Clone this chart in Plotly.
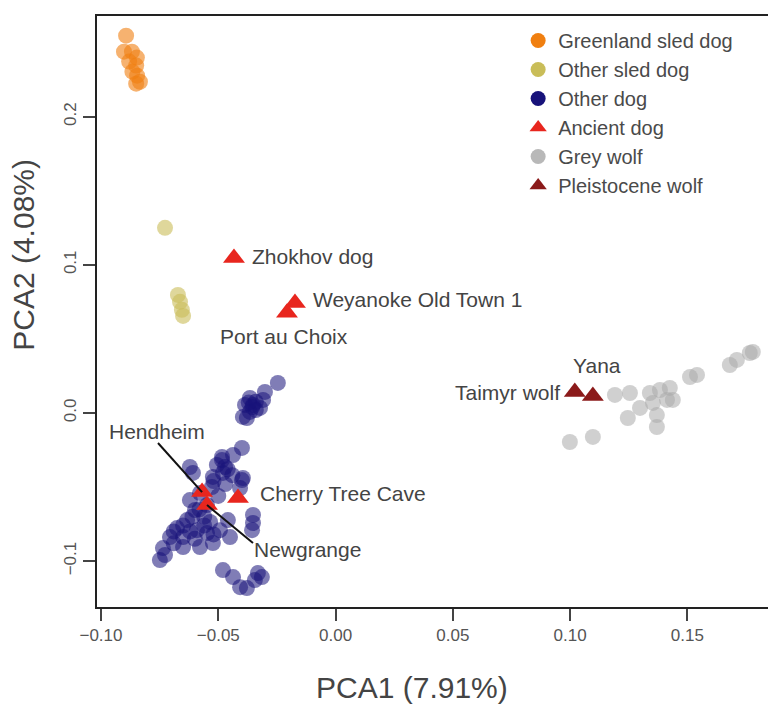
import plotly.graph_objects as go

# ---------------- data ----------------
greenland_x = [-0.0893, -0.0902, -0.0868, -0.0847, -0.0880, -0.0850, -0.0866, -0.0846, -0.0834, -0.0850]
greenland_y = [0.2547, 0.2439, 0.2439, 0.2399, 0.2372, 0.2345, 0.2304, 0.2277, 0.2236, 0.2223]

othersled_x = [-0.0727, -0.0672, -0.0663, -0.0655, -0.0650]
othersled_y = [0.1250, 0.0797, 0.0750, 0.0696, 0.0655]

otherdog_x = [-0.0246, -0.0301, -0.0365, -0.0386, -0.0352, -0.0322, -0.0365, -0.0395, -0.0378, -0.0309, -0.0340,
              -0.0399, -0.0437, -0.0484, -0.0506, -0.0471, -0.0621, -0.0608, -0.0523, -0.0480, -0.0395, -0.0407,
              -0.0352, -0.0352, -0.0356, -0.0527, -0.0578, -0.0599, -0.0633, -0.0676, -0.0706, -0.0736, -0.0727,
              -0.0650, -0.0591, -0.0548, -0.0493, -0.0450, -0.0523, -0.0578, -0.0650, -0.0480, -0.0437, -0.0407,
              -0.0378, -0.0344, -0.0331, -0.0459, -0.0535, -0.0621, -0.0548, -0.0749, -0.0399, -0.0314, -0.0484,
              -0.0560, -0.0600, -0.0690, -0.0560, -0.0620, -0.0520, -0.0460, -0.0520,
              -0.0690, -0.0650, -0.0610, -0.0580, -0.0500, -0.0470, -0.0440, -0.0355, -0.0340, -0.0370]
otherdog_y = [0.0203, 0.0142, 0.0101, 0.0054, 0.0054, 0.0034, 0.0007, -0.0027, -0.0034, 0.0088, 0.0075,
              -0.0236, -0.0284, -0.0318, -0.0351, -0.0365, -0.0365, -0.0405, -0.0432, -0.0405, -0.0439, -0.0507,
              -0.0689, -0.0743, -0.0791, -0.0500, -0.0541, -0.0655, -0.0723, -0.0777, -0.0838, -0.0912, -0.0959,
              -0.0838, -0.0791, -0.0811, -0.0791, -0.0838, -0.0878, -0.0905, -0.0905, -0.1061, -0.1108, -0.1176,
              -0.1182, -0.1128, -0.1081, -0.0723, -0.0736, -0.0588, -0.0622, -0.0993, -0.0453, -0.1108, -0.0297,
              -0.0700, -0.0850, -0.0880, -0.0760, -0.0800, -0.0460, -0.0380, -0.0820,
              -0.0800, -0.0760, -0.0700, -0.0650, -0.0560, -0.0480, -0.0420, 0.0040, 0.0020, 0.0070]

greywolf_x = [0.1191, 0.1255, 0.1340, 0.1383, 0.1425, 0.1413, 0.1353, 0.1298, 0.1246, 0.1370, 0.1370,
              0.1511, 0.1541, 0.1681, 0.1711, 0.1766, 0.1779, 0.0999, 0.1097, 0.1438]
greywolf_y = [0.0122, 0.0135, 0.0135, 0.0155, 0.0169, 0.0088, 0.0068, 0.0034, -0.0034, -0.0095, -0.0014,
              0.0243, 0.0257, 0.0324, 0.0358, 0.0405, 0.0412, -0.0196, -0.0162, 0.0088]

ancient_names = ["Zhokhov dog", "Weyanoke Old Town 1", "Port au Choix", "Cherry Tree Cave", "Hendheim", "Newgrange"]
ancient_x = [-0.0433, -0.0173, -0.0207, -0.0416, -0.0569, -0.0548]
ancient_y = [0.1047, 0.0743, 0.0676, -0.0574, -0.0534, -0.0622]

pleist_names = ["Taimyr wolf", "Yana"]
pleist_x = [0.1020, 0.1097]
pleist_y = [0.0142, 0.0115]

# label anchor positions (data units) and anchors
label_text = ["Zhokhov dog", "Weyanoke Old Town 1", "Port au Choix", "Cherry Tree Cave",
              "Hendheim", "Newgrange", "Yana", "Taimyr wolf"]
label_x = [-0.0365, -0.0105, -0.0501, -0.0331, -0.0974, -0.0356, 0.1003, 0.0965]
label_y = [0.1054, 0.0764, 0.0514, -0.0547, -0.0128, -0.0919, 0.0318, 0.0135]
label_anchor = ["left", "left", "left", "left", "left", "left", "left", "right"]

# leader lines (label end -> point)
lead_x = [[-0.0757, -0.0569], [-0.0548, -0.0352]]
lead_y = [[-0.0203, -0.0534], [-0.0622, -0.0878]]

x_ticks = [-0.10, -0.05, 0.00, 0.05, 0.10, 0.15]
x_ticklabels = ["\u22120.10", "\u22120.05", "0.00", "0.05", "0.10", "0.15"]
y_ticks = [-0.1, 0.0, 0.1, 0.2]
y_ticklabels = ["\u22120.1", "0.0", "0.1", "0.2"]

# ---------------- styles ----------------
C_GREEN = "#F07F10"
C_SLED = "#C9BD58"
C_DOG = "#17127A"
C_ANC = "#E8261E"
C_WOLF = "#A9A9A9"
C_PLEI = "#8B1A1A"
FONT = "Liberation Sans"

fig = go.Figure()

def pts(x, y, color, op, sym="circle", size=16):
    fig.add_trace(go.Scatter(x=x, y=y, mode="markers", showlegend=False, hoverinfo="skip",
                             marker=dict(color=color, opacity=op, size=size, symbol=sym,
                                         line=dict(width=0))))

pts(greenland_x, greenland_y, C_GREEN, 0.6)
pts(othersled_x, othersled_y, C_SLED, 0.6)
pts(otherdog_x, otherdog_y, C_DOG, 0.55)
pts(greywolf_x, greywolf_y, C_WOLF, 0.55)
pts(ancient_x, ancient_y, C_ANC, 1.0, "triangle-up", 19)
pts(pleist_x, pleist_y, C_PLEI, 1.0, "triangle-up", 19)

for lx, ly in zip(lead_x, lead_y):
    fig.add_trace(go.Scatter(x=lx, y=ly, mode="lines", showlegend=False, hoverinfo="skip",
                             line=dict(color="#111111", width=2)))

# legend-only traces
legend_items = [("Greenland sled dog", C_GREEN, "circle"), ("Other sled dog", C_SLED, "circle"),
                ("Other dog", C_DOG, "circle"), ("Ancient dog", C_ANC, "triangle-up"),
                ("Grey wolf", "#B8B8B8", "circle"), ("Pleistocene wolf", C_PLEI, "triangle-up")]
for name, col, sym in legend_items:
    fig.add_trace(go.Scatter(x=[None], y=[None], mode="markers", name=name,
                             marker=dict(color=col, size=15, symbol=sym)))

for t, x, y, a in zip(label_text, label_x, label_y, label_anchor):
    fig.add_annotation(x=x, y=y, text=t, showarrow=False, xanchor=a, yanchor="middle",
                       font=dict(family=FONT, size=21, color="#444444"))

fig.add_annotation(xref="paper", yref="paper", x=0.466, y=-0.137, text="PCA1 (7.91%)",
                   showarrow=False, xanchor="center", yanchor="middle",
                   font=dict(family=FONT, size=30, color="#444444"))
fig.add_annotation(xref="paper", yref="paper", x=-0.108, y=0.596, text="PCA2 (4.08%)",
                   showarrow=False, xanchor="center", yanchor="middle", textangle=-90,
                   font=dict(family=FONT, size=30, color="#444444"))

axis_common = dict(showgrid=False, zeroline=False, showline=True, mirror=True,
                   linecolor="#222222", linewidth=2, ticks="outside", ticklen=12,
                   tickcolor="#444444", tickwidth=1.5, automargin=False,
                   tickfont=dict(family=FONT, size=17, color="#555555"))

fig.update_layout(
    width=768, height=698,
    margin=dict(l=89, r=3, t=8, b=99),
    paper_bgcolor="white", plot_bgcolor="white",
    xaxis=dict(range=[-0.1017, 0.1865], tickvals=x_ticks, ticktext=x_ticklabels, **axis_common),
    yaxis=dict(range=[-0.131, 0.268], tickvals=y_ticks, ticktext=y_ticklabels, tickangle=-90,
               **axis_common),
    legend=dict(x=0.623, y=0.9915, xanchor="left", yanchor="top", bgcolor="rgba(0,0,0,0)",
                font=dict(family=FONT, size=20, color="#4a4a4a"), tracegroupgap=0),
    showlegend=True,
)

fig.write_html("out.html")
